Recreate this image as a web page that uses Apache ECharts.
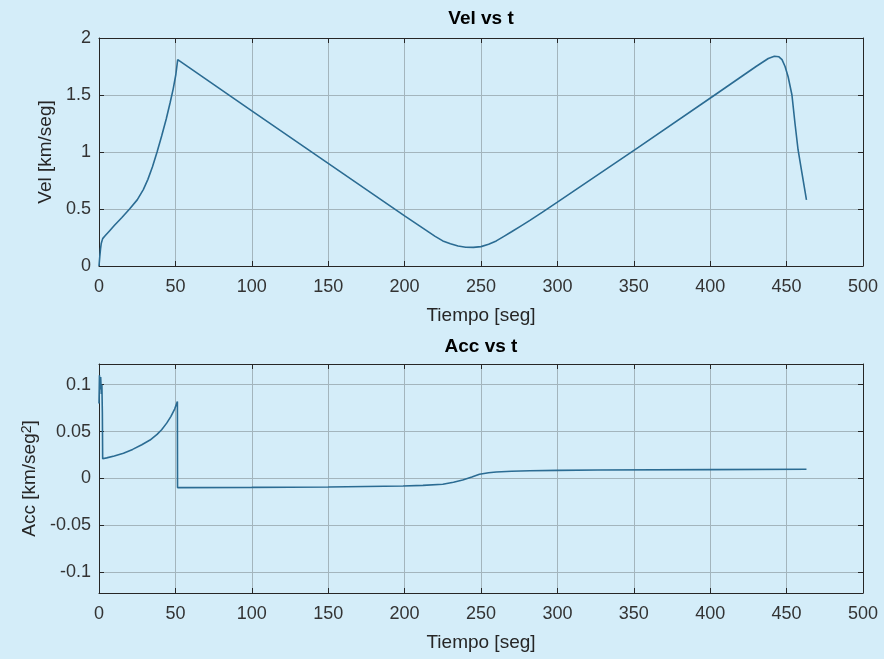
<!DOCTYPE html>
<html>
<head>
<meta charset="utf-8">
<script src="https://cdn.jsdelivr.net/npm/echarts@6/dist/echarts.min.js"></script>
<style>
  html, body { margin: 0; padding: 0; background: #d4edf9; }
  #chart { width: 884px; height: 659px; }
</style>
</head>
<body>
<div id="chart"></div>
<script>
// Vel vs t
const velTime = [0, 0.5, 1, 1.5, 2.4, 4, 7, 10, 15, 20, 25, 29, 32, 35, 38, 41, 44, 46.5, 48.5, 50.3, 51.5,
  52, 100, 150, 200, 210, 220, 225, 230, 235, 240, 245, 250, 255, 260, 265, 270, 276, 282, 290, 300, 353, 403,
  430, 438, 442, 445, 447, 449, 451, 453.5, 455.5, 457.5, 460, 463];
const velValues = [0, 0.08, 0.15, 0.2, 0.24, 0.265, 0.31, 0.355, 0.425, 0.5, 0.58, 0.67, 0.76, 0.87, 1.0, 1.14, 1.29, 1.43, 1.55, 1.68, 1.81,
  1.8, 1.36, 0.9, 0.44, 0.35, 0.26, 0.22, 0.195, 0.175, 0.165, 0.163, 0.17, 0.19, 0.22, 0.26, 0.3, 0.35, 0.4, 0.47, 0.56, 1.04, 1.5,
  1.75, 1.82, 1.84, 1.835, 1.81, 1.75, 1.66, 1.5, 1.25, 1.02, 0.82, 0.58];

// Acc vs t
const accTime = [0, 0.3, 0.7, 1.1, 1.5, 1.9, 2.2, 2.4, 5, 10, 16, 22, 28, 33.4, 38, 41, 44.3, 47, 49.5, 51.3,
  51.4, 100, 150, 199, 212, 225, 232, 238, 244, 249, 255, 260, 270, 282, 300, 326, 400, 463];
const accValues = [0.08, 0.11, 0.095, 0.108, 0.09, 0.1, 0.07, 0.021, 0.022, 0.024, 0.027, 0.031, 0.036, 0.041, 0.047, 0.052, 0.059, 0.066, 0.074, 0.082,
  -0.0097, -0.0095, -0.0091, -0.008, -0.0073, -0.0062, -0.004, -0.0016, 0.0015, 0.0045, 0.0062, 0.007, 0.0077, 0.0083, 0.0087, 0.0091, 0.0095, 0.0098];

const accTicks = [-0.1, -0.05, 0, 0.05, 0.1];

const lineColor = '#2b6c93';
const axisColor = '#262626';
const gridColor = '#a3b5bd';
const font = '"Liberation Sans", Arial, sans-serif';

let chart = echarts.init(document.getElementById('chart'));

function xMain(gridIndex) {
  return {
    type: 'value', gridIndex: gridIndex, position: 'bottom',
    min: 0, max: 500, interval: 50,
    name: 'Tiempo [seg]', nameLocation: 'middle', nameGap: 40,
    nameTextStyle: { color: axisColor, fontSize: 19, fontFamily: font },
    axisLine: { onZero: false, lineStyle: { color: axisColor, width: 1 } },
    axisTick: { inside: true, length: 5, lineStyle: { color: axisColor } },
    axisLabel: { color: '#333', fontSize: 18, fontFamily: font, margin: 12 },
    splitLine: { show: true, lineStyle: { color: gridColor, width: 1 } }
  };
}

function xTop(gridIndex) {
  return {
    type: 'value', gridIndex: gridIndex, position: 'top',
    min: 0, max: 500, interval: 50,
    axisLine: { onZero: false, lineStyle: { color: axisColor, width: 1 } },
    axisTick: { inside: true, length: 5, lineStyle: { color: axisColor } },
    axisLabel: { show: false },
    splitLine: { show: false }
  };
}

let option = {
  backgroundColor: '#d4edf9',
  animation: false,
  title: [
    {
      text: 'Vel vs t', left: 481, top: 9, textAlign: 'center', padding: 0,
      textStyle: { color: '#000', fontSize: 19, fontWeight: 'bold', fontFamily: font }
    },
    {
      text: 'Acc vs t', left: 481, top: 337, textAlign: 'center', padding: 0,
      textStyle: { color: '#000', fontSize: 19, fontWeight: 'bold', fontFamily: font }
    }
  ],
  grid: [
    { left: 99, right: 21, top: 38, height: 228 },
    { left: 99, right: 21, top: 364, height: 229 }
  ],
  xAxis: [xMain(0), xTop(0), xMain(1), xTop(1)],
  yAxis: [
    {
      type: 'value', gridIndex: 0, position: 'left',
      min: 0, max: 2, interval: 0.5,
      name: 'Vel [km/seg]', nameLocation: 'middle', nameGap: 38,
      nameTextStyle: { color: axisColor, fontSize: 19, fontFamily: font },
      axisLine: { show: true, onZero: false, lineStyle: { color: axisColor, width: 1 } },
      axisTick: { show: true, inside: true, length: 5, lineStyle: { color: axisColor } },
      axisLabel: { color: '#333', fontSize: 18, fontFamily: font, margin: 8 },
      splitLine: { show: true, lineStyle: { color: gridColor, width: 1 } }
    },
    {
      type: 'value', gridIndex: 0, position: 'right',
      min: 0, max: 2, interval: 0.5,
      axisLine: { show: true, onZero: false, lineStyle: { color: axisColor, width: 1 } },
      axisTick: { show: true, inside: true, length: 5, lineStyle: { color: axisColor } },
      axisLabel: { show: false },
      splitLine: { show: false }
    },
    {
      type: 'value', gridIndex: 1, position: 'left',
      min: -0.122, max: 0.122,
      name: 'Acc [km/seg{sup|2}]', nameLocation: 'middle', nameGap: 56,
      nameTextStyle: {
        color: axisColor, fontSize: 19, fontFamily: font,
        rich: { sup: { fontSize: 14, fontFamily: font, color: axisColor, verticalAlign: 'top', lineHeight: 19 } }
      },
      axisLine: { show: true, onZero: false, lineStyle: { color: axisColor, width: 1 } },
      axisTick: { show: true, inside: true, length: 5, customValues: accTicks, lineStyle: { color: axisColor } },
      axisLabel: { color: '#333', fontSize: 18, fontFamily: font, margin: 8, customValues: accTicks },
      splitLine: { show: true, lineStyle: { color: gridColor, width: 1 } }
    },
    {
      type: 'value', gridIndex: 1, position: 'right',
      min: -0.122, max: 0.122,
      axisLine: { show: true, onZero: false, lineStyle: { color: axisColor, width: 1 } },
      axisTick: { show: true, inside: true, length: 5, customValues: accTicks, lineStyle: { color: axisColor } },
      axisLabel: { show: false },
      splitLine: { show: false }
    }
  ],
  series: [
    {
      name: 'Vel', type: 'line', xAxisIndex: 0, yAxisIndex: 0,
      showSymbol: false, symbol: 'none',
      lineStyle: { color: lineColor, width: 1.6 },
      data: velTime.map((t, i) => [t, velValues[i]])
    },
    {
      name: 'Acc', type: 'line', xAxisIndex: 2, yAxisIndex: 2,
      showSymbol: false, symbol: 'none',
      lineStyle: { color: lineColor, width: 1.6 },
      data: accTime.map((t, i) => [t, accValues[i]])
    }
  ]
};

chart.setOption(option);
</script>
</body>
</html>
